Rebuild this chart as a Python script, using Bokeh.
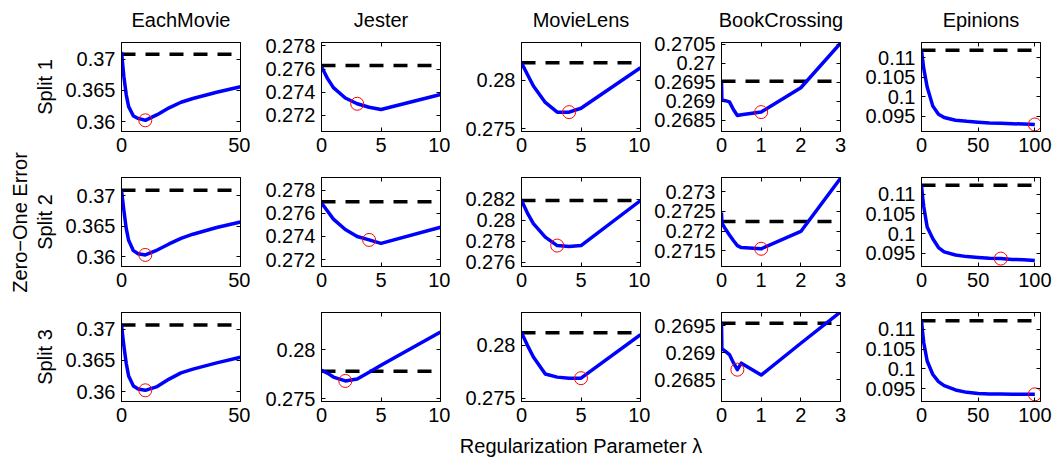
from bokeh.plotting import figure
from bokeh.models import Range1d, FixedTicker, LinearAxis, CustomJSTickFormatter
from bokeh.layouts import column, row
from bokeh.embed import file_html
from bokeh.resources import INLINE

datasets = ["EachMovie", "Jester", "MovieLens", "BookCrossing", "Epinions"]
split_labels = ["Split 1", "Split 2", "Split 3"]
y_label = "Zero\u2212One Error"
x_label = "Regularization Parameter \u03bb"

# ---- EachMovie ----
lam_eachmovie = [0, 1, 2, 3, 5, 7, 10, 15, 20, 25, 30, 40, 50]
eachmovie_s1 = [0.3712, 0.3672, 0.3643, 0.3624, 0.3609, 0.3605, 0.3602, 0.3611, 0.3622, 0.3631, 0.3637, 0.3647, 0.3656]
eachmovie_s2 = [0.3709, 0.3676, 0.3646, 0.3627, 0.3610, 0.3605, 0.3603, 0.3611, 0.3621, 0.3630, 0.3637, 0.3648, 0.3657]
eachmovie_s3 = [0.3707, 0.3673, 0.3645, 0.3625, 0.3609, 0.3604, 0.3602, 0.3608, 0.3620, 0.3630, 0.3636, 0.3646, 0.3655]
eachmovie_base = [0.3708, 0.3709, 0.3707]
eachmovie_sel = [10, 10, 10]

# ---- Jester ----
lam_jester = [0, 0.5, 1, 2, 3, 4, 5, 10]
jester_s1 = [0.2762, 0.2752, 0.2744, 0.2735, 0.2730, 0.2727, 0.2725, 0.2738]
jester_s2 = [0.2769, 0.2762, 0.2755, 0.2746, 0.2740, 0.2737, 0.2734, 0.2748]
jester_s3 = [0.2779, 0.2776, 0.2772, 0.2768, 0.2770, 0.2777, 0.2784, 0.2818]
jester_base = [0.2763, 0.2770, 0.2778]
jester_sel = [3, 4, 2]

# ---- MovieLens ----
lam_movielens = [0, 0.5, 1, 2, 3, 4, 5, 10]
movielens_s1 = [0.2818, 0.2806, 0.2794, 0.2777, 0.2767, 0.2767, 0.2771, 0.2813]
movielens_s2 = [0.2819, 0.2807, 0.2797, 0.2784, 0.2776, 0.2775, 0.2776, 0.2819]
movielens_s3 = [0.2812, 0.2800, 0.2789, 0.2773, 0.2770, 0.2769, 0.2769, 0.2810]
movielens_base = [0.2818, 0.2819, 0.2812]
movielens_sel = [4, 3, 5]

# ---- BookCrossing ----
lam_bookcrossing = [0, 0.01, 0.1, 0.2, 0.3, 0.4, 0.5, 1, 2, 3]
bookcrossing_s1 = [0.26950, 0.26903, 0.26901, 0.26898, 0.26878, 0.26862, 0.26864, 0.26871, 0.26935, 0.27052]
bookcrossing_s2 = [0.27247, 0.27220, 0.27205, 0.27190, 0.27176, 0.27163, 0.27158, 0.27155, 0.27199, 0.27334]
bookcrossing_s3 = [0.26956, 0.26908, 0.26903, 0.26897, 0.26882, 0.26869, 0.26881, 0.26859, 0.26918, 0.26976]
bookcrossing_base = [0.26952, 0.27224, 0.26955]
bookcrossing_sel = [1, 1, 0.4]

# ---- Epinions ----
lam_epinions = [0, 1, 2, 5, 10, 15, 20, 30, 40, 50, 60, 70, 80, 90, 100]
epinions_s1 = [0.1119, 0.1095, 0.1072, 0.1025, 0.0976, 0.0955, 0.0947, 0.0940, 0.0937, 0.0935, 0.0933, 0.0932, 0.0931, 0.0930, 0.0929]
epinions_s2 = [0.1122, 0.1093, 0.1068, 0.1017, 0.0987, 0.0965, 0.0954, 0.0946, 0.0942, 0.0940, 0.0938, 0.0937, 0.0935, 0.0934, 0.0932]
epinions_s3 = [0.1121, 0.1092, 0.1066, 0.1020, 0.0986, 0.0968, 0.0958, 0.0947, 0.0941, 0.0938, 0.0937, 0.0937, 0.0936, 0.0936, 0.0936]
epinions_base = [0.1119, 0.11225, 0.11215]
epinions_sel = [100, 70, 100]

# axis ranges and ticks
x_ranges = [(0, 50), (0, 10), (0, 10), (0, 3), (0, 105)]
x_ticks = [[0, 50], [0, 5, 10], [0, 5, 10], [0, 1, 2, 3], [0, 50, 100]]
y_ranges = [
    [(0.3584, 0.3727), (0.2706, 0.2783), (0.2747, 0.2839), (0.2682, 0.27054), (0.0911, 0.1139)],
    [(0.3584, 0.3730), (0.2714, 0.2791), (0.2756, 0.2841), (0.2711, 0.27336), (0.0917, 0.1142)],
    [(0.3584, 0.3727), (0.2747, 0.2838), (0.2747, 0.2831), (0.2681, 0.26975), (0.0918, 0.1142)],
]
y_ticks = [
    [[0.36, 0.365, 0.37], [0.272, 0.274, 0.276, 0.278], [0.275, 0.28], [0.2685, 0.269, 0.2695, 0.27, 0.2705], [0.095, 0.1, 0.105, 0.11]],
    [[0.36, 0.365, 0.37], [0.272, 0.274, 0.276, 0.278], [0.276, 0.278, 0.28, 0.282], [0.2715, 0.272, 0.2725, 0.273], [0.095, 0.1, 0.105, 0.11]],
    [[0.36, 0.365, 0.37], [0.275, 0.28], [0.275, 0.28], [0.2685, 0.269, 0.2695], [0.095, 0.1, 0.105, 0.11]],
]

lams = [lam_eachmovie, lam_jester, lam_movielens, lam_bookcrossing, lam_epinions]
errs = [
    [eachmovie_s1, jester_s1, movielens_s1, bookcrossing_s1, epinions_s1],
    [eachmovie_s2, jester_s2, movielens_s2, bookcrossing_s2, epinions_s2],
    [eachmovie_s3, jester_s3, movielens_s3, bookcrossing_s3, epinions_s3],
]
bases = [eachmovie_base, jester_base, movielens_base, bookcrossing_base, epinions_base]
sels = [eachmovie_sel, jester_sel, movielens_sel, bookcrossing_sel, epinions_sel]

FONT = "Liberation Sans"
FS = "20px"
fmt_code = "return parseFloat(tick.toFixed(6)).toString();"


def style_label(ax):
    ax.axis_label_text_font = FONT
    ax.axis_label_text_font_size = FS
    ax.axis_label_text_font_style = "normal"
    ax.axis_label_text_color = "black"


def style_axis(ax):
    ax.major_tick_in = 4
    ax.major_tick_out = 0
    ax.minor_tick_line_color = None
    ax.axis_line_color = "black"
    ax.major_tick_line_color = "black"
    ax.major_label_text_font = FONT
    ax.major_label_text_font_size = FS
    ax.major_label_text_color = "black"
    ax.major_label_standoff = 6
    style_label(ax)


def mirror_axis(ticks):
    ax = LinearAxis(ticker=FixedTicker(ticks=ticks),
                    formatter=CustomJSTickFormatter(code="return '';"))
    ax.major_tick_in = 4
    ax.major_tick_out = 0
    ax.minor_tick_line_color = None
    ax.axis_line_color = "black"
    ax.major_tick_line_color = "black"
    ax.major_label_text_font_size = "0px"
    ax.major_label_standoff = 0
    style_label(ax)
    return ax


def bare_axis(ax, label):
    ax.ticker = FixedTicker(ticks=[])
    ax.formatter = CustomJSTickFormatter(code="return '';")
    ax.axis_line_color = None
    ax.major_tick_line_color = None
    ax.minor_tick_line_color = None
    ax.major_label_text_font_size = "0px"
    ax.major_label_standoff = 0
    ax.major_tick_in = 0
    ax.major_tick_out = 0
    ax.axis_label = label
    ax.axis_label_standoff = 0
    style_label(ax)


LEFT0 = 90
rows = []
for r in range(3):
    figs = []
    for c in range(5):
        p = figure(
            frame_width=119, frame_height=89,
            x_range=Range1d(*x_ranges[c]), y_range=Range1d(*y_ranges[r][c]),
            output_backend="svg", toolbar_location=None,
            min_border_left=LEFT0 if c == 0 else 71,
            min_border_right=14 if c == 4 else 10,
            min_border_top=42 if r == 0 else 8,
            min_border_bottom=38 if r < 2 else 31,
            background_fill_color="white", border_fill_color="white",
            outline_line_color="black", outline_line_width=1, outline_line_alpha=1,
        )
        p.xgrid.visible = False
        p.ygrid.visible = False
        xb = p.xaxis[0]
        yl = p.yaxis[0]
        xb.ticker = FixedTicker(ticks=x_ticks[c])
        yl.ticker = FixedTicker(ticks=y_ticks[r][c])
        xb.formatter = CustomJSTickFormatter(code=fmt_code)
        yl.formatter = CustomJSTickFormatter(code=fmt_code)
        style_axis(xb)
        style_axis(yl)
        right_ax = mirror_axis(y_ticks[r][c])
        top_ax = mirror_axis(x_ticks[c])
        if r == 0:
            top_ax.axis_label = datasets[c]
            top_ax.axis_label_standoff = 12
        p.add_layout(right_ax, "right")
        p.add_layout(top_ax, "above")
        if c == 0:
            yl.axis_label = split_labels[r]
            yl.axis_label_standoff = 6

        lam = lams[c]
        err = errs[r][c]
        base = bases[c][r]
        sel = sels[c][r]
        p.line([lam[0], lam[-1]], [base, base], line_color="black", line_width=3.5,
               line_dash="14 10")
        p.line(lam, err, line_color="#0000ff", line_width=3.5, line_join="round")
        i = lam.index(sel)
        p.scatter([lam[i]], [err[i]], marker="circle", size=13, fill_color=None,
                  line_color="red", line_width=1)
        figs.append(p)
    rows.append(row(*figs, spacing=0))

# shared x label strip (centred under the middle column)
grid_width = (LEFT0 + 119 + 10) + 3 * 200 + (71 + 119 + 14)
xl_left = (LEFT0 + 119 + 10) + 200 + 71
xfig = figure(frame_width=119, frame_height=1, output_backend="svg", toolbar_location=None,
              min_border_left=xl_left, min_border_right=grid_width - xl_left - 119,
              min_border_top=0, min_border_bottom=26, y_axis_location=None,
              outline_line_color=None, background_fill_color="white",
              border_fill_color="white", x_range=Range1d(0, 1), y_range=Range1d(0, 1))
xfig.xgrid.visible = False
xfig.ygrid.visible = False
bare_axis(xfig.xaxis[0], x_label)
xfig.xaxis[0].axis_label_standoff = 1

# shared y label strip (centred on the middle row)
yfig = figure(frame_width=1, frame_height=140, output_backend="svg", toolbar_location=None,
              min_border_left=30, min_border_right=0,
              min_border_top=152, min_border_bottom=168, x_axis_location=None,
              outline_line_color=None, background_fill_color="white",
              border_fill_color="white", x_range=Range1d(0, 1), y_range=Range1d(0, 1))
yfig.xgrid.visible = False
yfig.ygrid.visible = False
bare_axis(yfig.yaxis[0], y_label)
yfig.yaxis[0].axis_label_standoff = 0

layout = row(yfig, column(*rows, xfig, spacing=0), spacing=0)
open("out.html", "w").write(file_html(layout, INLINE))
